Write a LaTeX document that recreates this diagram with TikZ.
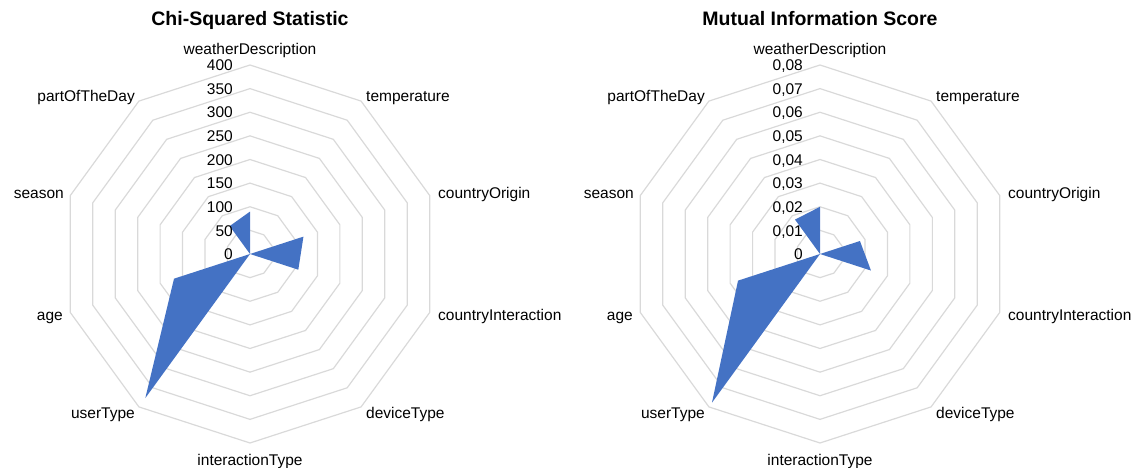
\documentclass[tikz,border=0pt]{standalone}
\usepackage{fontspec}
\setmainfont{Liberation Sans}
\definecolor{xlblue}{HTML}{4472C4}
\definecolor{ringgray}{HTML}{D9D9D9}
\begin{document}
\begin{tikzpicture}[x=1pt,y=1pt,
  ring/.style={draw=ringgray, line width=1.2pt, line join=miter},
  lbl/.style={font=\fontsize{15.5}{18}\selectfont, inner sep=0pt, text height=11.5pt, text depth=0pt},
  ticklbl/.style={lbl, anchor=east},
  ttl/.style={font=\fontsize{19.5}{22}\selectfont\bfseries, inner sep=0pt, text height=14pt, text depth=0pt},
  area/.style={fill=xlblue, draw=none}]
\useasboundingbox (0,0) rectangle (1136,468);

% ---------- left chart ----------
\begin{scope}[shift={(250,214)}, name prefix=L-]
  \foreach \k in {1,...,8}{
    \draw[ring] (90:\k*23.625) \foreach \i in {1,...,9}{ -- (90-\i*36:\k*23.625)} -- cycle;
  }
  \fill[area] (90:42.4) -- (54:0) -- (18:56.2) -- (-18:50.8) -- (-54:0) -- (-90:0)
    -- (-126:178.1) -- (-162:79.9) -- (-198:0) -- (-234:34.5) -- cycle;
  \foreach \v [count=\k from 0] in {0,50,100,150,200,250,300,350,400}
    \node[ticklbl] (t\k) at (-17,\k*23.625) {\v};
  \node[ttl] (title) at (0,235) {Chi-Squared Statistic};
  \node[lbl] (wd) at (0,205) {weatherDescription};
  \node[lbl, anchor=west] (temp) at (116,158.5) {temperature};
  \node[lbl, anchor=west] (co) at (188,61) {countryOrigin};
  \node[lbl, anchor=west] (ci) at (188,-60.5) {countryInteraction};
  \node[lbl, anchor=west] (dt) at (116,-159) {deviceType};
  \node[lbl] (it) at (0,-206) {interactionType};
  \node[lbl, anchor=east] (ut) at (-115,-159) {userType};
  \node[lbl, anchor=east] (age) at (-187,-60.5) {age};
  \node[lbl, anchor=east] (season) at (-186,61) {season};
  \node[lbl, anchor=east] (potd) at (-115,158.5) {partOfTheDay};
\end{scope}

% ---------- right chart ----------
\begin{scope}[shift={(820,214)}, name prefix=R-]
  \foreach \k in {1,...,8}{
    \draw[ring] (90:\k*23.625) \foreach \i in {1,...,9}{ -- (90-\i*36:\k*23.625)} -- cycle;
  }
  \fill[area] (90:47.2) -- (54:0) -- (18:42.0) -- (-18:53.6) -- (-54:0) -- (-90:0)
    -- (-126:183.8) -- (-162:86.2) -- (-198:0) -- (-234:42.5) -- cycle;
  \foreach \v [count=\k from 0] in {0,{0,01},{0,02},{0,03},{0,04},{0,05},{0,06},{0,07},{0,08}}
    \node[ticklbl] (t\k) at (-17,\k*23.625) {\v};
  \node[ttl] (title) at (0,235) {Mutual Information Score};
  \node[lbl] (wd) at (0,205) {weatherDescription};
  \node[lbl, anchor=west] (temp) at (116,158.5) {temperature};
  \node[lbl, anchor=west] (co) at (188,61) {countryOrigin};
  \node[lbl, anchor=west] (ci) at (188,-60.5) {countryInteraction};
  \node[lbl, anchor=west] (dt) at (116,-159) {deviceType};
  \node[lbl] (it) at (0,-206) {interactionType};
  \node[lbl, anchor=east] (ut) at (-115,-159) {userType};
  \node[lbl, anchor=east] (age) at (-187,-60.5) {age};
  \node[lbl, anchor=east] (season) at (-186,61) {season};
  \node[lbl, anchor=east] (potd) at (-115,158.5) {partOfTheDay};
\end{scope}
\end{tikzpicture}
\end{document}
